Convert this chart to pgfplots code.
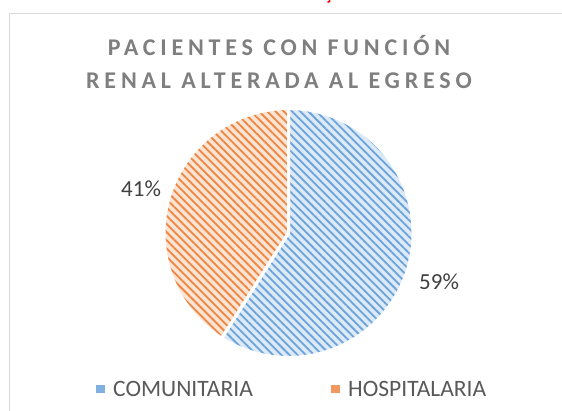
\documentclass[border=0pt]{standalone}
\usepackage{pgfplots}
\pgfplotsset{compat=1.18}
\usepackage{fontspec}
\setmainfont{Carlito}
\newfontfamily\titlefont{Carlito}[LetterSpace=20]
\usetikzlibrary{patterns.meta}
\definecolor{bluedark}{HTML}{6AA3DA}
\definecolor{bluelight}{HTML}{DCE9F7}
\definecolor{orangedark}{HTML}{EF8540}
\definecolor{orangelight}{HTML}{FCE4D4}
\definecolor{titlegray}{HTML}{7F7F7F}
\definecolor{labelgray}{HTML}{404040}
\definecolor{leggray}{HTML}{595959}
\definecolor{framegray}{HTML}{D9D9D9}
% data (percent)
\def\vComunitaria{59}
\def\vHospitalaria{41}
\tikzset{stripes/.style={pattern={Lines[angle=-45,distance=5.8pt,line width=1.8pt]}, pattern color=#1}}
\begin{document}
\begin{tikzpicture}
\useasboundingbox (0,0) rectangle (562pt,410pt);
\pgfmathsetmacro{\aStart}{90}
\pgfmathsetmacro{\aMid}{90-3.6*\vComunitaria}
\pgfmathsetmacro{\aEnd}{\aMid-3.6*\vHospitalaria}
\begin{axis}[
  at={(0,0)}, anchor=south west,
  scale only axis, width=562pt, height=410pt,
  xmin=0, xmax=562, ymin=0, ymax=410, y dir=reverse,
  hide axis, clip=false,
]
% frame
\draw[framegray, line width=1.5pt] (9.5,600) -- (9.5,13.5) -- (600,13.5);
% red fragment at top (cut off in the source)
\draw[red, line width=1.5pt] (330,-2) -- (329.5,1.5) -- (327.5,2.3);
% slice COMUNITARIA
\addplot[domain=\aStart:\aMid, samples=150, fill=bluelight, draw=none]
  ({288.5+124.5*cos(x)}, {233-124.5*sin(x)}) -- (288.5,233) -- cycle;
\addplot[domain=\aStart:\aMid, samples=150, draw=none, stripes=bluedark]
  ({288.5+124.5*cos(x)}, {233-124.5*sin(x)}) -- (288.5,233) -- cycle;
% slice HOSPITALARIA
\addplot[domain=\aMid:\aEnd, samples=120, fill=orangelight, draw=none]
  ({288.5+124.5*cos(x)}, {233-124.5*sin(x)}) -- (288.5,233) -- cycle;
\addplot[domain=\aMid:\aEnd, samples=120, draw=none, stripes=orangedark]
  ({288.5+124.5*cos(x)}, {233-124.5*sin(x)}) -- (288.5,233) -- cycle;
% white separators
\addplot[domain=\aStart:\aMid, samples=150, draw=white, line width=3pt]
  ({288.5+124.5*cos(x)}, {233-124.5*sin(x)}) -- (288.5,233) -- cycle;
\addplot[domain=\aMid:\aEnd, samples=120, draw=white, line width=3pt]
  ({288.5+124.5*cos(x)}, {233-124.5*sin(x)}) -- (288.5,233) -- cycle;
% title
\node[anchor=base, titlegray, font=\titlefont\fontsize{24}{24}\selectfont\bfseries] at (279,55) {PACIENTES CON FUNCIÓN};
\node[anchor=base, titlegray, font=\titlefont\fontsize{24}{24}\selectfont\bfseries] at (279,88.5) {RENAL ALTERADA AL EGRESO};
% data labels
\node[anchor=base west, labelgray, inner sep=0pt, font=\fontsize{23}{23}\selectfont] at (121,196.5) {41\%};
\node[anchor=base west, labelgray, inner sep=0pt, font=\fontsize{23}{23}\selectfont] at (419,289) {59\%};
% legend
\fill[bluedark!80!bluelight] (96,385) rectangle (105,393);
\fill[orangedark!80!orangelight] (331,385) rectangle (340,393);
\node[anchor=base west, leggray, inner sep=0pt, font=\fontsize{23.5}{23.5}\selectfont] at (113,396.5) {COMUNITARIA};
\node[anchor=base west, leggray, inner sep=0pt, font=\fontsize{23.5}{23.5}\selectfont] at (348,396.5) {HOSPITALARIA};
\end{axis}
\end{tikzpicture}
\end{document}
